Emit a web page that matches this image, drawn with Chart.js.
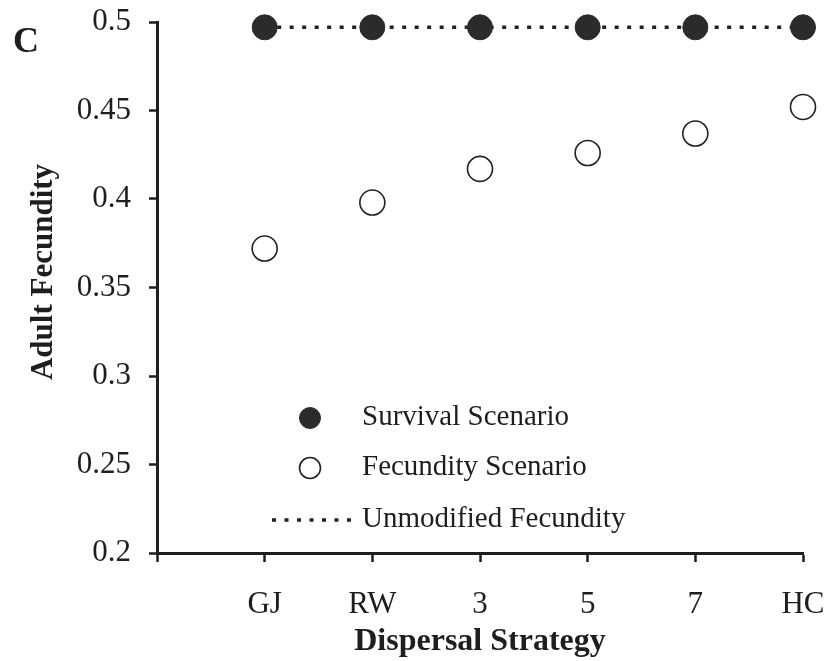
<!DOCTYPE html>
<html>
<head>
<meta charset="utf-8">
<title>Adult Fecundity by Dispersal Strategy</title>
<script src="https://cdn.jsdelivr.net/npm/chart.js@4/dist/chart.umd.min.js"></script>
<style>
  html, body { margin: 0; padding: 0; background: #ffffff; }
  #wrap { position: relative; width: 827px; height: 661px; }
</style>
</head>
<body>
<div id="wrap"><canvas id="chart" width="827" height="661"></canvas></div>
<script>
// Dispersal strategies along the x axis
const categories = ['GJ', 'RW', '3', '5', '7', 'HC'];

// Adult fecundity under each scenario
const survivalScenario = [0.497, 0.497, 0.497, 0.497, 0.497, 0.497];
const fecundityScenario = [0.372, 0.398, 0.417, 0.426, 0.437, 0.452];
const unmodifiedFecundity = [0.497, 0.497, 0.497, 0.497, 0.497, 0.497];

// Y axis ticks
const yTicks = [0.2, 0.25, 0.3, 0.35, 0.4, 0.45, 0.5];
const yTickLabels = ['0.2', '0.25', '0.3', '0.35', '0.4', '0.45', '0.5'];

const panelLabel = 'C';
const xTitle = 'Dispersal Strategy';
const yTitle = 'Adult Fecundity';

const SERIF = "'Liberation Serif', 'Times New Roman', serif";
const INK = '#1e1e1e';

// The category axis starts one empty step before the first strategy
const xLabels = [''].concat(categories);
const toPoints = (vals) => vals.map((v, i) => ({ x: categories[i], y: v }));

// Draws the in-plot legend, the rotated y title and the panel letter
const decorations = {
  id: 'decorations',
  afterDraw(chart) {
    const ctx = chart.ctx;
    const ds = chart.data.datasets;
    ctx.save();

    // legend
    ctx.font = '29px ' + SERIF;
    ctx.fillStyle = INK;
    ctx.textAlign = 'left';
    ctx.textBaseline = 'middle';
    const rows = [418, 468, 520];
    const symX = 310, textX = 362;
    ds.forEach((d, i) => {
      const y = rows[i];
      if (d.showLine === false) {
        ctx.beginPath();
        ctx.arc(symX, y, 10.5, 0, Math.PI * 2);
        ctx.fillStyle = d.pointBackgroundColor;
        ctx.fill();
        ctx.lineWidth = d.pointBorderWidth;
        ctx.strokeStyle = d.pointBorderColor;
        ctx.stroke();
      } else {
        ctx.beginPath();
        ctx.setLineDash(d.borderDash);
        ctx.lineWidth = d.borderWidth;
        ctx.strokeStyle = d.borderColor;
        ctx.moveTo(272, y);
        ctx.lineTo(352, y);
        ctx.stroke();
        ctx.setLineDash([]);
      }
      ctx.fillStyle = INK;
      ctx.fillText(d.label, textX, y - 1);
    });

    // y axis title
    ctx.save();
    ctx.translate(52, 272);
    ctx.rotate(-Math.PI / 2);
    ctx.font = 'bold 31px ' + SERIF;
    ctx.textAlign = 'center';
    ctx.textBaseline = 'alphabetic';
    ctx.fillStyle = INK;
    ctx.fillText(yTitle, 0, 0);
    ctx.restore();

    // panel letter
    ctx.font = 'bold 36px ' + SERIF;
    ctx.textAlign = 'center';
    ctx.textBaseline = 'alphabetic';
    ctx.fillStyle = INK;
    ctx.fillText(panelLabel, 26, 52);

    ctx.restore();
  }
};

new Chart(document.getElementById('chart'), {
  type: 'line',
  data: {
    labels: xLabels,
    datasets: [
      {
        label: 'Survival Scenario',
        data: toPoints(survivalScenario),
        showLine: false,
        pointRadius: 12.5,
        pointHoverRadius: 12.5,
        pointBackgroundColor: '#2b2b2b',
        pointBorderColor: '#2b2b2b',
        pointBorderWidth: 1,
        clip: false
      },
      {
        label: 'Fecundity Scenario',
        data: toPoints(fecundityScenario),
        showLine: false,
        pointRadius: 12.5,
        pointHoverRadius: 12.5,
        pointBackgroundColor: '#ffffff',
        pointBorderColor: '#222222',
        pointBorderWidth: 1.6,
        clip: false
      },
      {
        label: 'Unmodified Fecundity',
        data: toPoints(unmodifiedFecundity),
        showLine: true,
        borderColor: '#222222',
        borderWidth: 3.5,
        borderDash: [4, 8.5],
        pointRadius: 0,
        pointHoverRadius: 0,
        fill: false,
        tension: 0,
        clip: false
      }
    ]
  },
  options: {
    responsive: false,
    animation: false,
    events: [],
    layout: { padding: { top: 22, right: 24, left: 0, bottom: 0 } },
    plugins: {
      legend: { display: false },
      tooltip: { enabled: false },
      title: { display: false }
    },
    scales: {
      x: {
        type: 'category',
        offset: false,
        afterFit(scale) {
          scale.height = 108;
          scale.paddingLeft = 0;
          scale.paddingRight = 0;
        },
        grid: {
          drawOnChartArea: false,
          drawTicks: true,
          tickLength: 9,
          tickWidth: 2.5,
          tickColor: INK
        },
        border: { display: true, color: INK, width: 3 },
        ticks: {
          autoSkip: false,
          maxRotation: 0,
          padding: 24,
          color: INK,
          font: { family: SERIF, size: 31 }
        },
        title: { display: true, text: xTitle, color: INK, padding: { top: 0, bottom: 0 },
                 font: { family: SERIF, size: 32, weight: 'bold' } }
      },
      y: {
        type: 'linear',
        min: 0.2,
        max: 0.5,
        afterFit(scale) {
          scale.width = 157;
          scale.paddingTop = 0;
          scale.paddingBottom = 0;
        },
        afterBuildTicks(scale) { scale.ticks = yTicks.map(v => ({ value: v })); },
        grid: {
          drawOnChartArea: false,
          drawTicks: true,
          tickLength: 8,
          tickWidth: 2.5,
          tickColor: INK
        },
        border: { display: true, color: INK, width: 3 },
        ticks: {
          padding: 18,
          color: INK,
          font: { family: SERIF, size: 31 },
          callback: (v, i) => yTickLabels[i]
        }
      }
    }
  },
  plugins: [decorations]
});
</script>
</body>
</html>
